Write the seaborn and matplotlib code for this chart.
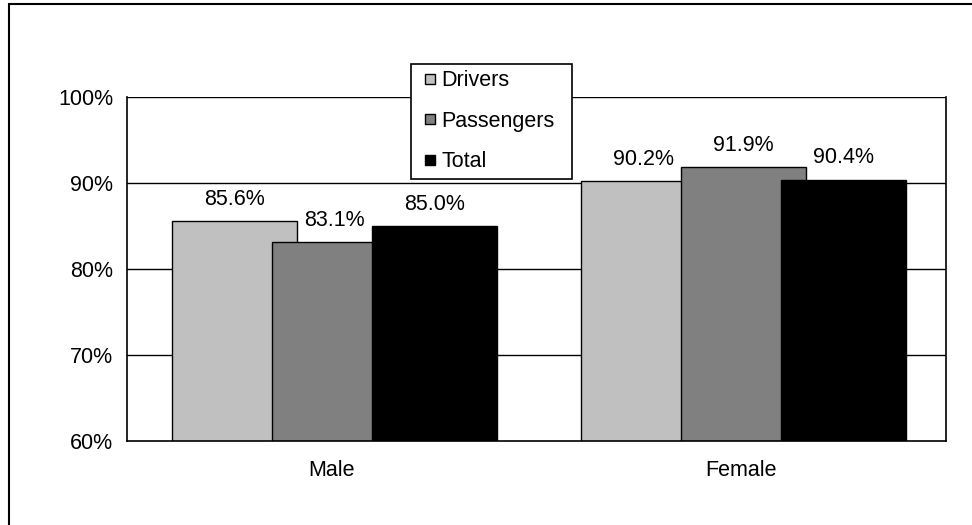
import pandas as pd
import matplotlib.pyplot as plt
import seaborn as sns
from matplotlib.lines import Line2D
from matplotlib.patches import Rectangle
from matplotlib.ticker import FuncFormatter

groups = ['Male', 'Female']
series = ['Drivers', 'Passengers', 'Total']
drivers = [85.6, 90.2]
passengers = [83.1, 91.9]
total = [85.0, 90.4]
colors = ['#C0C0C0', '#808080', '#000000']

rows = []
for name, vals in zip(series, [drivers, passengers, total]):
    for g, v in zip(groups, vals):
        rows.append({'sex': g, 'series': name, 'value': v})
df = pd.DataFrame(rows)

sns.set_style('white')
plt.rcParams['font.family'] = ['Liberation Sans', 'DejaVu Sans']
plt.rcParams['text.color'] = 'black'
plt.rcParams['xtick.color'] = 'black'
plt.rcParams['ytick.color'] = 'black'
fs = 15.5

fig = plt.figure(figsize=(9.72, 5.25), dpi=100)
ax = fig.add_axes([127 / 972, 1 - 441 / 525, (946 - 127) / 972, (441 - 97) / 525])

sns.barplot(data=df, x='sex', y='value', hue='series', hue_order=series,
            palette=colors, edgecolor='black', linewidth=1, width=0.733,
            gap=0, saturation=1, ax=ax, legend=False)

# widen bars so they overlap like the original
for cont in ax.containers:
    for p in cont.patches:
        w = p.get_width()
        cx = p.get_x() + w / 2 + 0.006
        p.set_width(w * 1.25)
        p.set_x(cx - w * 1.25 / 2)
    ax.bar_label(cont, fmt='{:.1f}%', padding=8, fontsize=fs, color='black')

ax.set_ylim(60, 100)
ax.set_xlim(-0.5, 1.5)
ax.set_yticks([60, 70, 80, 90, 100])
ax.yaxis.set_major_formatter(FuncFormatter(lambda v, _: f'{v:.0f}%'))
for yv in [70, 80, 90, 100]:
    ax.axhline(yv, color='black', lw=1, zorder=0.5)

ax.set_xlabel('')
ax.set_ylabel('')
ax.set_xticks([0, 1])
ax.set_xticks([-0.5, 0.5, 1.5], minor=True)
ax.tick_params(axis='x', which='major', length=0, pad=14, labelsize=fs)
ax.tick_params(axis='x', which='minor', length=4, width=1, direction='out')
ax.tick_params(axis='y', length=4, width=1, direction='out', pad=6, labelsize=fs)

for s in ['left', 'bottom', 'right']:
    ax.spines[s].set_visible(True)
    ax.spines[s].set_color('black')
    ax.spines[s].set_linewidth(1.2)
ax.spines['top'].set_visible(False)

handles = [Line2D([], [], linestyle='none', marker='s', markersize=6.5,
                  markerfacecolor=c, markeredgecolor='black', markeredgewidth=1)
           for c in colors]
leg = fig.legend(handles, series, loc='upper left', mode='expand',
                 bbox_to_anchor=(411 / 972, 1 - 179 / 525, 161 / 972, 115 / 525),
                 bbox_transform=fig.transFigure, frameon=True, fancybox=False,
                 shadow=False, edgecolor='black', framealpha=1,
                 handlelength=1.2, handletextpad=-0.1,
                 labelspacing=0.9, borderpad=0.3, borderaxespad=0,
                 fontsize=fs)
leg.get_frame().set_linewidth(1.2)

fig.patches.append(Rectangle((8.5 / 972, -0.1), 2, 1.1 - 4 / 525, transform=fig.transFigure,
                             fill=False, edgecolor='black', lw=1.5))

fig.savefig('out.png', dpi=100)
